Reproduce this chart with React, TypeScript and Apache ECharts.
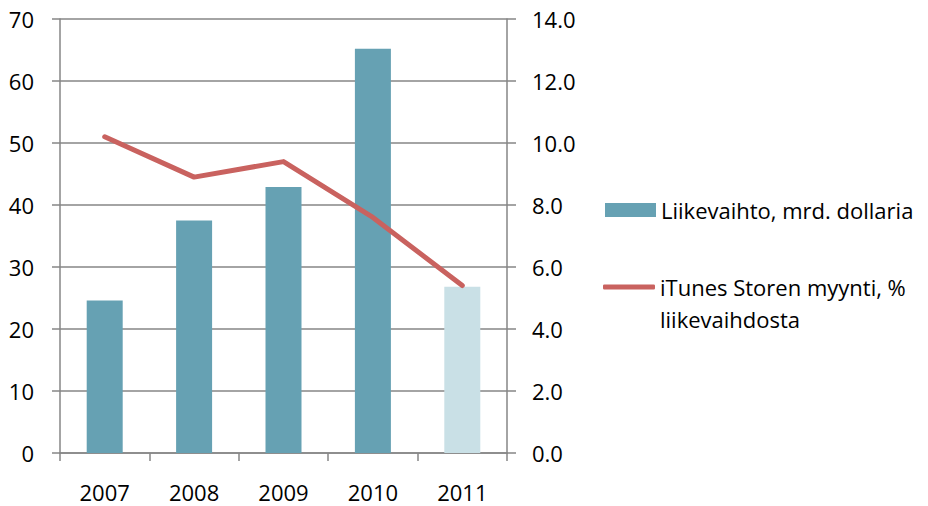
import React, { useEffect, useRef } from "react";
import * as echarts from "echarts";

// Apple: revenue (bn USD) and iTunes Store sales as % of revenue
const years = ["2007", "2008", "2009", "2010", "2011"];
const revenue = [24.6, 37.5, 42.9, 65.2, 26.8];
const itunesShare = [10.2, 8.9, 9.4, 7.6, 5.4];

const revenueName = "Liikevaihto, mrd. dollaria";
const shareName = "iTunes Storen myynti, % liikevaihdosta";
// legend text for the line, wrapped onto two lines; the leading blank line
// keeps the first text line level with the legend line
const shareLegendText = "\niTunes Storen myynti, %\nliikevaihdosta";

const barColor = "#66A1B3";
const barColorPartial = "#C9E0E6";
const lineColor = "#C9625F";
const axisGray = "#868686";
const font = "Open Sans";

export default function App() {
  const ref = useRef<HTMLDivElement>(null);

  useEffect(() => {
    if (!ref.current) return;
    const chart = echarts.init(ref.current, undefined, { renderer: "svg" });
    const last = years.length - 1;
    const labelStyle = { fontFamily: font, fontSize: 22, color: "#000" };

    chart.setOption({
      animation: false,
      backgroundColor: "#ffffff",
      textStyle: { fontFamily: font, color: "#000" },
      grid: { left: 60, right: 421, top: 19, bottom: 53, containLabel: false },
      legend: [
        {
          data: [{ name: revenueName, icon: "rect" }],
          orient: "vertical",
          left: 605,
          top: 194,
          padding: 0,
          itemWidth: 51,
          itemHeight: 14,
          textStyle: { ...labelStyle, lineHeight: 32 },
        },
        {
          data: [{ name: shareName, icon: "roundRect" }],
          orient: "vertical",
          left: 603,
          top: 239,
          padding: 0,
          itemWidth: 52,
          itemHeight: 5,
          formatter: () => shareLegendText,
          textStyle: { ...labelStyle, lineHeight: 32 },
        },
      ],
      xAxis: {
        type: "category",
        data: years,
        boundaryGap: true,
        axisLine: { show: true, lineStyle: { color: axisGray, width: 1.5 } },
        axisTick: { show: true, length: 8, lineStyle: { color: axisGray, width: 1.5 } },
        axisLabel: { ...labelStyle, margin: 28 },
      },
      yAxis: [
        {
          type: "value",
          min: 0,
          max: 70,
          interval: 10,
          axisLine: { show: true, lineStyle: { color: axisGray, width: 1.5 } },
          axisTick: { show: true, length: 8, lineStyle: { color: axisGray, width: 1.5 } },
          axisLabel: { ...labelStyle, margin: 26 },
          splitLine: { show: true, lineStyle: { color: axisGray, width: 1.5 } },
        },
        {
          type: "value",
          position: "right",
          min: 0,
          max: 14,
          interval: 2,
          axisLine: { show: true, lineStyle: { color: axisGray, width: 1.5 } },
          axisTick: { show: true, length: 9, lineStyle: { color: axisGray, width: 1.5 } },
          axisLabel: {
            ...labelStyle,
            margin: 25,
            formatter: (v: number) => v.toFixed(1),
          },
          splitLine: { show: false },
        },
      ],
      series: [
        {
          name: revenueName,
          type: "bar",
          barWidth: 36,
          itemStyle: { color: barColor },
          data: revenue.map((v, i) => ({
            value: v,
            itemStyle: { color: i === last ? barColorPartial : barColor },
          })),
        },
        {
          name: shareName,
          type: "line",
          yAxisIndex: 1,
          symbol: "none",
          itemStyle: { color: lineColor },
          lineStyle: { color: lineColor, width: 5, cap: "round", join: "round" },
          data: itunesShare,
        },
      ],
    });

    return () => chart.dispose();
  }, []);

  return (
    <div
      ref={ref}
      style={{ position: "fixed", left: 0, top: 0, width: 928, height: 506 }}
    />
  );
}
